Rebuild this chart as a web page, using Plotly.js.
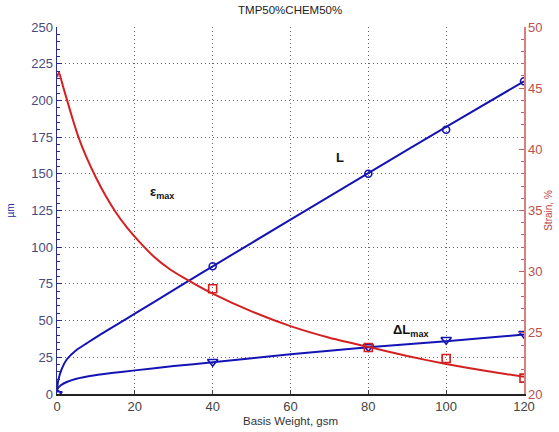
<!DOCTYPE html>
<html>
<head>
<meta charset="utf-8">
<script src="https://cdn.plot.ly/plotly-3.0.1.min.js"></script>
<style>html,body{margin:0;padding:0;background:#fff;}#chart{width:559px;height:432px;}</style>
</head>
<body>
<div id="chart"></div>
<script>
// Fitted curve for L (µm)
const lCurveX = [0, 0.3, 1.2, 2.5, 5, 7.6, 11, 17.5, 25, 33.4, 40, 60, 80, 100, 120];
const lCurveY = [3, 9, 17, 23.5, 30, 34.5, 40.3, 50.6, 62.8, 76.4, 87, 118.8, 150.5, 182, 213];
// Measured L points
const ptX = [0, 40, 80, 100, 120];
const lPts = [0, 87, 150, 180, 213];
// Fitted curve for ΔLmax (µm)
const dlCurveX = [0, 0.3, 1, 2.5, 5, 8.5, 14, 20, 30, 40, 60, 80, 100, 120];
const dlCurveY = [2.7, 4.3, 6, 8.2, 10.4, 12.3, 14.3, 16.1, 19, 21.6, 27, 31.8, 36, 40.5];
const dlPts = [0, 22, 32, 37, 41];
// Fitted curve for strain εmax (%)
const sCurveX = [0, 0.5, 1.5, 2.6, 4, 5.4, 7.5, 10, 12.5, 15, 18, 21, 25, 29, 33.4, 40, 50, 60, 70, 80, 90, 100, 110, 120];
const sCurveY = [45.9, 46.3, 45.2, 44.0, 42.5, 41.1, 39.4, 37.7, 36.2, 34.9, 33.6, 32.5, 31.2, 30.2, 29.35, 28.2, 26.75, 25.55, 24.6, 23.85, 23.1, 22.45, 21.9, 21.4];
const sPtX = [40, 80, 100, 120];
const sPts = [28.6, 23.8, 22.9, 21.3];

const BLUE = '#1414b4';
const RED = '#d42020';

const traces = [
  {x: lCurveX, y: lCurveY, mode: 'lines', line: {color: BLUE, width: 2, shape: 'spline', smoothing: 0.5}},
  {x: ptX, y: lPts, mode: 'markers', marker: {symbol: 'circle-open', size: 7, color: BLUE, line: {width: 1.6, color: BLUE}}},
  {x: dlCurveX, y: dlCurveY, mode: 'lines', line: {color: BLUE, width: 2, shape: 'spline', smoothing: 0.5}},
  {x: ptX, y: dlPts, mode: 'markers', marker: {symbol: 'triangle-down-open', size: 9, color: BLUE, line: {width: 1.6, color: BLUE}}},
  {x: sCurveX, y: sCurveY, yaxis: 'y2', mode: 'lines', line: {color: RED, width: 2, shape: 'spline', smoothing: 0.5}},
  {x: sPtX, y: sPts, yaxis: 'y2', mode: 'markers', marker: {symbol: 'square-open', size: 8, color: RED, line: {width: 1.6, color: '#c02020'}}}
];

const tickFont = {family: 'Liberation Sans, Arial, sans-serif', size: 13};
const GRID = '#666';
const GRIDDASH = '1px,3px';

const layout = {
  width: 559, height: 432,
  margin: {l: 57, r: 35, t: 27, b: 38},
  showlegend: false,
  paper_bgcolor: '#ffffff', plot_bgcolor: '#ffffff',
  font: {family: 'Liberation Sans, Arial, sans-serif', color: '#222'},
  title: {text: 'TMP50%CHEM50%', font: {size: 11.5, color: '#222'}, x: 0.519, xanchor: 'center', y: 0.978, yanchor: 'middle'},
  xaxis: {
    range: [0, 120], dtick: 20, tick0: 0,
    showline: true, linecolor: '#222', linewidth: 1.5, mirror: false,
    ticks: 'inside', ticklen: 4, tickcolor: '#444',
    showgrid: true, gridcolor: GRID, griddash: GRIDDASH, gridwidth: 1,
    zeroline: false,
    tickfont: Object.assign({}, tickFont, {color: '#444'}),
    title: {text: 'Basis Weight, gsm', font: {size: 11.5, color: '#333'}, standoff: 4}
  },
  yaxis: {
    range: [0, 250], dtick: 25, tick0: 0,
    showline: true, linecolor: '#2a2a90', linewidth: 1.5,
    ticks: 'inside', ticklen: 5, tickcolor: '#2a2a90',
    minor: {dtick: 5, ticks: 'inside', ticklen: 3, tickcolor: '#2a2a90', showgrid: false},
    showgrid: true, gridcolor: GRID, griddash: GRIDDASH, gridwidth: 1,
    zeroline: false,
    tickfont: Object.assign({}, tickFont, {color: '#4a4a80'}),
    title: {text: 'µm', font: {size: 10, color: '#2a2aa0'}, standoff: 14}
  },
  yaxis2: {
    range: [20, 50], dtick: 5, tick0: 20,
    overlaying: 'y', side: 'right',
    showline: true, linecolor: '#d88080', linewidth: 1.5,
    ticks: 'inside', ticklen: 5, tickcolor: '#c06060',
    minor: {dtick: 1, ticks: 'inside', ticklen: 3, tickcolor: '#c06060', showgrid: false},
    showgrid: false, zeroline: false,
    tickfont: Object.assign({}, tickFont, {color: '#b85050'}),
    title: {text: 'Strain, %', font: {size: 10, color: '#c04040'}, standoff: 2}
  },
  annotations: [
    {x: 72.7, y: 161, xref: 'x', yref: 'y', text: '<b>L</b>', showarrow: false, font: {size: 13, color: '#111'}},
    {x: 27, y: 137, xref: 'x', yref: 'y', text: '<b>ε<sub>max</sub></b>', showarrow: false, font: {size: 13, color: '#111'}},
    {x: 91, y: 43, xref: 'x', yref: 'y', text: '<b>ΔL<sub>max</sub></b>', showarrow: false, font: {size: 13, color: '#111'}}
  ]
};

Plotly.newPlot('chart', traces, layout, {displayModeBar: false, staticPlot: true});
</script>
</body>
</html>
